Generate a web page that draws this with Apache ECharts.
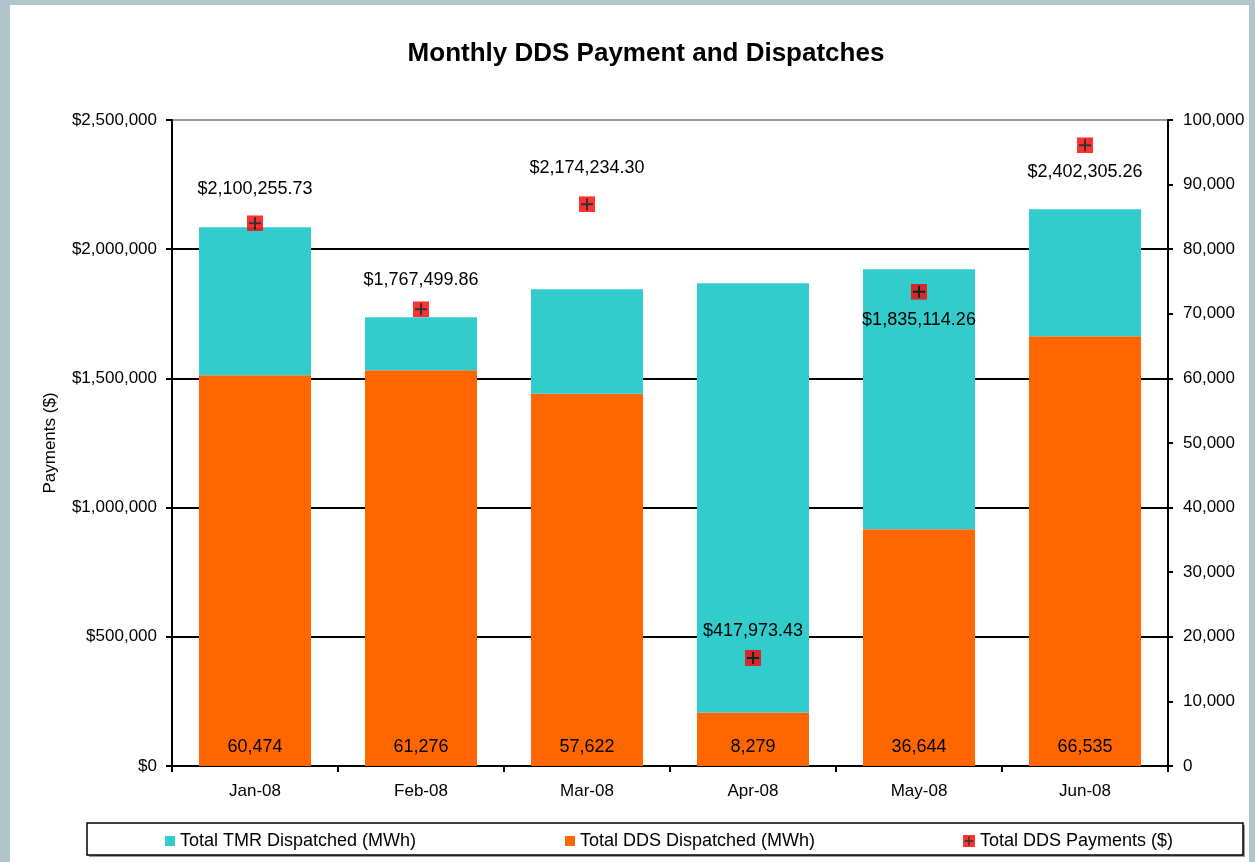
<!DOCTYPE html>
<html>
<head>
<meta charset="utf-8">
<script src="https://cdn.jsdelivr.net/npm/echarts@6/dist/echarts.min.js"></script>
<style>
html,body{margin:0;padding:0;background:#b0c5cb;}
#chart{width:1255px;height:862px;}
</style>
</head>
<body>
<div id="chart"></div>
<script>
var categories = ['Jan-08', 'Feb-08', 'Mar-08', 'Apr-08', 'May-08', 'Jun-08'];
var tmrDispatched = [22920, 8180, 16170, 66440, 40240, 19640];
var ddsDispatched = [60474, 61276, 57622, 8279, 36644, 66535];
var ddsPayments = [2100255.73, 1767499.86, 2174234.30, 417973.43, 1835114.26, 2402305.26];
var leftTicks = [0, 500000, 1000000, 1500000, 2000000, 2500000];
var rightTicks = [0, 10000, 20000, 30000, 40000, 50000, 60000, 70000, 80000, 90000, 100000];

var FONT = '"Liberation Sans", Arial, sans-serif';
var markerSvg = "<svg xmlns='http://www.w3.org/2000/svg' width='16' height='16'><rect width='16' height='16' fill='#ff0000'/><path d='M8 2V14M2 8H14' stroke='#000000' stroke-width='2'/></svg>";
var markerUri = 'image://data:image/svg+xml;charset=utf-8,' + encodeURIComponent(markerSvg);

function fmtInt(v){ return Math.round(v).toString().replace(/\B(?=(\d{3})+(?!\d))/g, ','); }
function fmtMoney2(v){
  var s = v.toFixed(2).split('.');
  return '$' + s[0].replace(/\B(?=(\d{3})+(?!\d))/g, ',') + '.' + s[1];
}

// label placement for payment markers (style, not data)
var payLabelPos = ['top','top','top','top','bottom','bottom'];
var payLabelDist = [17, 12, 19, 10, 11, 10];

var chart = echarts.init(document.getElementById('chart'), null, {renderer:'canvas'});
var legendText = {fontFamily: FONT, fontSize: 18, color: '#000'};
var option = {
  backgroundColor: '#b0c5cb',
  animation: false,
  textStyle: {fontFamily: FONT, color: '#000'},
  graphic: [
    {type:'rect', z:-10, shape:{x:10, y:5, width:1239, height:857}, style:{fill:'#ffffff'}},
    {type:'rect', z:-5, shape:{x:89, y:825, width:1156, height:32}, style:{fill:'#9a9a9a'}},
    {type:'rect', z:-4, shape:{x:87, y:823, width:1156, height:32}, style:{fill:'#ffffff', stroke:'#000000', lineWidth:1.5}}
  ],
  title: {
    text: 'Monthly DDS Payment and Dispatches',
    left: 641, top: 36, textAlign: 'center',
    textStyle: {fontFamily: FONT, fontSize: 26, fontWeight: 'bold', color: '#000'}
  },
  legend: [
    {left: 160, top: 827, itemWidth: 10, itemHeight: 10, icon: 'rect', data: ['Total TMR Dispatched (MWh)'], textStyle: legendText},
    {left: 560, top: 827, itemWidth: 10, itemHeight: 10, icon: 'rect', data: ['Total DDS Dispatched (MWh)'], textStyle: legendText},
    {left: 958, top: 827, itemWidth: 12, itemHeight: 12, data: [{name:'Total DDS Payments ($)', icon: markerUri}], textStyle: legendText}
  ],
  grid: {left: 172, right: 87, top: 120, bottom: 96, containLabel: false},
  xAxis: {
    type: 'category', data: categories, boundaryGap: true,
    axisLine: {lineStyle: {color: '#000', width: 2}},
    axisTick: {show: true, length: 6, lineStyle: {color: '#000', width: 2}},
    axisLabel: {fontFamily: FONT, fontSize: 17, color: '#000', margin: 17}
  },
  yAxis: [
    {
      type: 'value', min: leftTicks[0], max: leftTicks[leftTicks.length-1], interval: leftTicks[1]-leftTicks[0],
      name: 'Payments ($)', nameLocation: 'middle', nameGap: 113, nameRotate: 90,
      nameTextStyle: {fontFamily: FONT, fontSize: 17, color: '#000'},
      axisLine: {show: true, lineStyle: {color: '#000', width: 2}},
      axisTick: {show: true, length: 6, lineStyle: {color: '#000', width: 2}},
      axisLabel: {fontFamily: FONT, fontSize: 17, color: '#000', margin: 15,
        formatter: function(v){ return '$' + fmtInt(v); }},
      splitLine: {show: true, lineStyle: {color: ['#000','#000','#000','#000','#000','#999'], width: 2}}
    },
    {
      type: 'value', min: rightTicks[0], max: rightTicks[rightTicks.length-1], interval: rightTicks[1]-rightTicks[0],
      position: 'right',
      axisLine: {show: true, lineStyle: {color: '#000', width: 2}},
      axisTick: {show: true, length: 5, lineStyle: {color: '#000', width: 2}},
      axisLabel: {fontFamily: FONT, fontSize: 17, color: '#000', margin: 15,
        formatter: function(v){ return fmtInt(v); }},
      splitLine: {show: false}
    }
  ],
  series: [
    {
      name: 'Total DDS Dispatched (MWh)', type: 'bar', stack: 'mwh', yAxisIndex: 1,
      data: ddsDispatched, barWidth: 112,
      itemStyle: {color: '#ff6600'},
      label: {show: true, position: 'insideBottom', distance: 10, fontFamily: FONT, fontSize: 18, color: '#000',
        formatter: function(p){ return fmtInt(p.value); }},
      z: 2
    },
    {
      name: 'Total TMR Dispatched (MWh)', type: 'bar', stack: 'mwh', yAxisIndex: 1,
      data: tmrDispatched, barWidth: 112,
      itemStyle: {color: '#33cccc'},
      z: 2
    },
    {
      name: 'Total DDS Payments ($)', type: 'scatter', yAxisIndex: 0,
      symbol: markerUri, symbolSize: 16,
      data: ddsPayments.map(function(v, i){
        return {value: v, label: {position: payLabelPos[i], distance: payLabelDist[i]}};
      }),
      label: {show: true, fontFamily: FONT, fontSize: 18, color: '#000', opacity: 1, textBorderWidth: 0,
        formatter: function(p){ return fmtMoney2(p.value); }},
      z: 5
    }
  ]
};
chart.setOption(option);
</script>
</body>
</html>
